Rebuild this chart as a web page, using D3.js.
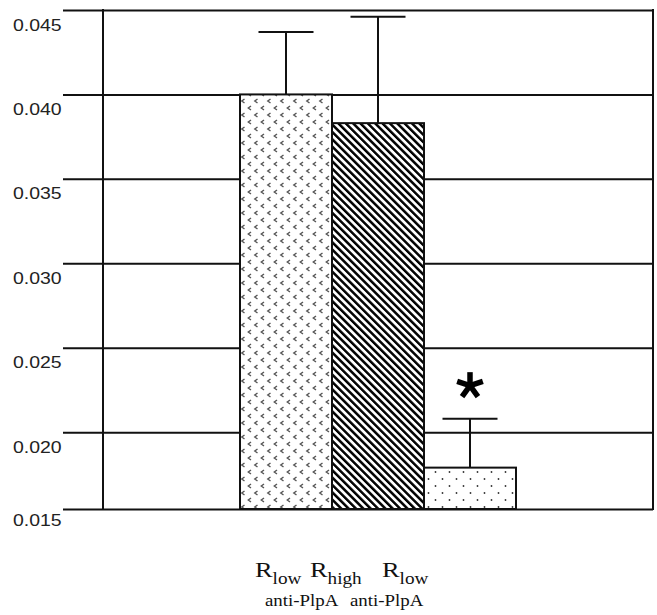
<!DOCTYPE html>
<html>
<head>
<meta charset="utf-8">
<script src="https://cdn.jsdelivr.net/npm/d3@7"></script>
<style>
  body { margin: 0; background: #fff; }
  svg { display: block; }
  .tick-label { font-family: "Liberation Sans", Arial, sans-serif; font-size: 16.5px; fill: #222; }
  .cat-label { font-family: "Liberation Serif", "Times New Roman", serif; fill: #111; }
</style>
</head>
<body>
<div class="container"></div>
<script>
// chart values
const categories = ["low", "high", "low"];
const secondLine = ["", "anti-PlpA", "anti-PlpA"];
const values = [0.0400, 0.0383, 0.0179];
const errorTops = [0.0437, 0.0446, 0.0208];
const patterns = ["chevron", "hatch", "dots"];
const significant = [false, false, true];
const yBase = 0.01545; // drawn baseline, labelled 0.015
const tickValues = [yBase, 0.020, 0.025, 0.030, 0.035, 0.040, 0.045];

const W = 657, H = 615;
const GRID_LEFT = 63, AXIS_X = 103, RIGHT = 653, TOP = 10, BOTTOM = 509;

const svg = d3.select(".container").append("svg")
  .attr("width", W).attr("height", H);

// Patterns
const defs = svg.append("defs");

const chev = defs.append("pattern")
  .attr("id", "chevron").attr("patternUnits", "userSpaceOnUse")
  .attr("width", 13).attr("height", 14)
  .attr("x", 240).attr("y", 0);
chev.append("rect").attr("width", 13).attr("height", 14).attr("fill", "#fff");
[[3, 3], [9.5, 10]].forEach(([cx, cy]) => {
  chev.append("path")
    .attr("d", `M${cx + 1.5},${cy - 2} L${cx - 1.2},${cy} L${cx + 1.5},${cy + 2}`)
    .attr("fill", "none").attr("stroke", "#555").attr("stroke-width", 1.4);
});

const hatch = defs.append("pattern")
  .attr("id", "hatch").attr("patternUnits", "userSpaceOnUse")
  .attr("width", 5.2).attr("height", 5.2)
  .attr("patternTransform", "rotate(-45)");
hatch.append("rect").attr("width", 5.2).attr("height", 5.2).attr("fill", "#fff");
hatch.append("rect").attr("width", 2.5).attr("height", 5.2).attr("fill", "#000");

const dots = defs.append("pattern")
  .attr("id", "dots").attr("patternUnits", "userSpaceOnUse")
  .attr("width", 14).attr("height", 14)
  .attr("x", 426).attr("y", 0);
dots.append("rect").attr("width", 14).attr("height", 14).attr("fill", "#fff");
[[2.5, 3], [9.5, 10]].forEach(([cx, cy]) => {
  dots.append("circle").attr("cx", cx).attr("cy", cy).attr("r", 0.9).attr("fill", "#333");
});

// Scales
const y = d3.scaleLinear().domain([yBase, 0.045]).range([BOTTOM, TOP]);
const plotMid = (AXIS_X + RIGHT) / 2;
const x = d3.scaleBand()
  .domain(d3.range(values.length))
  .range([plotMid - 138, plotMid + 138])
  .padding(0);

// Grid lines + tick labels
const axis = svg.append("g")
  .attr("class", "y-axis")
  .attr("transform", `translate(${GRID_LEFT},0)`)
  .call(d3.axisLeft(y)
    .tickValues(tickValues)
    .tickSize(-(RIGHT - GRID_LEFT))
    .tickFormat(d3.format(".3f")));
axis.select(".domain").remove();
axis.selectAll(".tick line").attr("stroke", "#111").attr("stroke-width", 2);
axis.selectAll(".tick text")
  .attr("class", "tick-label")
  .attr("text-anchor", "start")
  .attr("x", 0).attr("dy", null).attr("y", 0)
  .attr("transform", d => `translate(-50,${d === yBase ? 16 : 20}) scale(1.18,1)`);

// Frame: y-axis line and right border
svg.append("line")
  .attr("x1", AXIS_X).attr("x2", AXIS_X).attr("y1", TOP - 1).attr("y2", BOTTOM + 1)
  .attr("stroke", "#111").attr("stroke-width", 2);
svg.append("line")
  .attr("x1", RIGHT).attr("x2", RIGHT).attr("y1", TOP - 1).attr("y2", BOTTOM + 1)
  .attr("stroke", "#111").attr("stroke-width", 2);

// Error bars
const capW = 55;
const err = svg.append("g").attr("class", "errors");
values.forEach((v, i) => {
  const cx = x(i) + x.bandwidth() / 2;
  err.append("line")
    .attr("x1", cx).attr("x2", cx).attr("y1", y(v)).attr("y2", y(errorTops[i]))
    .attr("stroke", "#111").attr("stroke-width", 2);
  err.append("line")
    .attr("x1", cx - capW / 2).attr("x2", cx + capW / 2)
    .attr("y1", y(errorTops[i])).attr("y2", y(errorTops[i]))
    .attr("stroke", "#111").attr("stroke-width", 2);
});

// Bars
svg.append("g").attr("class", "bars")
  .selectAll("rect")
  .data(values)
  .join("rect")
  .attr("x", (d, i) => x(i))
  .attr("y", d => y(d))
  .attr("width", x.bandwidth())
  .attr("height", d => y(yBase) - y(d))
  .attr("fill", (d, i) => `url(#${patterns[i]})`)
  .attr("stroke", "#111")
  .attr("stroke-width", 2);

// Significance asterisk
significant.forEach((s, i) => {
  if (!s) return;
  const cx = x(i) + x.bandwidth() / 2;
  const cy = y(errorTops[i]) - 33;
  const g = svg.append("g").attr("transform", `translate(${cx},${cy})`);
  d3.range(5).forEach(k => {
    const a = (-90 + k * 72) * Math.PI / 180;
    g.append("line")
      .attr("x1", 0).attr("y1", 0)
      .attr("x2", 13.5 * Math.cos(a)).attr("y2", 13.5 * Math.sin(a))
      .attr("stroke", "#000").attr("stroke-width", 5.5);
  });
});

// Category labels
const labelX = [255, 310, 382];
const secondX = [0, 265, 350];
categories.forEach((c, i) => {
  const t = svg.append("text")
    .attr("class", "cat-label")
    .attr("transform", `translate(${labelX[i]},577) scale(1.2,1)`);
  t.append("tspan").attr("font-size", 22).text("R");
  t.append("tspan").attr("font-size", 16).attr("dy", 7).text(c);
  if (secondLine[i]) {
    svg.append("text")
      .attr("class", "cat-label")
      .attr("font-size", 16)
      .attr("transform", `translate(${secondX[i]},606) scale(1.18,1)`)
      .text(secondLine[i]);
  }
});
</script>
</body>
</html>
